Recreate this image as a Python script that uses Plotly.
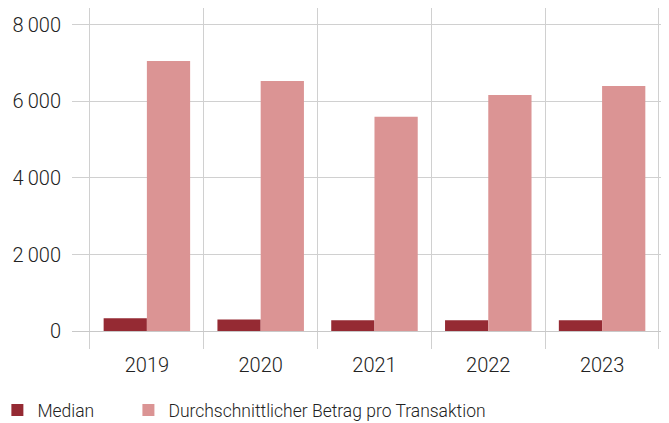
import plotly.graph_objects as go

years = ["2019", "2020", "2021", "2022", "2023"]
median = [332, 298, 280, 280, 280]
durchschnitt = [7060, 6536, 5600, 6170, 6405]
y_ticks = [0, 2000, 4000, 6000, 8000]

font_family = "Roboto, Liberation Sans, Arial, sans-serif"

fig = go.Figure()
fig.add_trace(go.Bar(x=years, y=median, name="Median", marker_color="#952A33",
                     marker_line_width=0, legend="legend"))
fig.add_trace(go.Bar(x=years, y=durchschnitt, name="Durchschnittlicher Betrag pro Transaktion",
                     marker_color="#DB9494", marker_line_width=0, legend="legend2"))

leg_common = dict(orientation="h", yanchor="middle", y=-0.245, xanchor="left",
                  font=dict(size=17.5), itemwidth=30, bgcolor="rgba(0,0,0,0)")

fig.update_layout(
    width=661, height=415,
    margin=dict(l=64, r=0, t=0, b=92, autoexpand=False),
    paper_bgcolor="white", plot_bgcolor="white",
    barmode="group", bargap=0.24, bargroupgap=0,
    separators=",\u2009",
    font=dict(family=font_family, size=20, color="#222222", weight=300),
    legend=dict(x=-0.125, **leg_common),
    legend2=dict(x=0.0945, **leg_common),
    showlegend=True,
)
fig.update_xaxes(type="category", tickson="boundaries", range=[-0.658, 4.588],
                 showgrid=True, gridcolor="#d0d0d0", gridwidth=1,
                 ticks="outside", ticklen=17, tickcolor="#d0d0d0", tickwidth=1,
                 ticklabelstandoff=20,
                 showline=False, zeroline=False)
fig.update_yaxes(range=[0, 8444], tickvals=y_ticks, tickformat=",d",
                 showgrid=True, gridcolor="#d0d0d0", gridwidth=1,
                 zeroline=True, zerolinecolor="#c8c8c8", zerolinewidth=1,
                 ticks="", ticklabelstandoff=10, showline=False)

fig.write_html("out.html")
